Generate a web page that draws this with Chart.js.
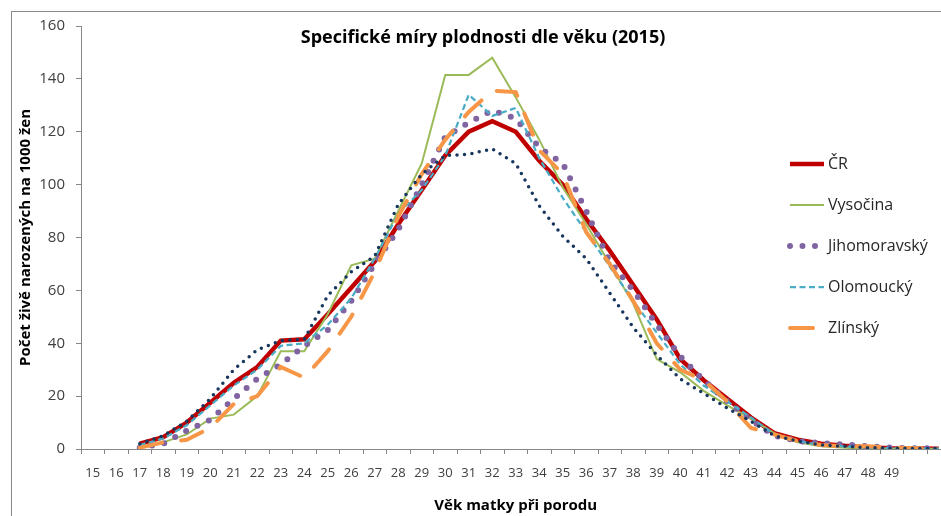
<!DOCTYPE html>
<html>
<head>
<meta charset="utf-8">
<script src="https://cdn.jsdelivr.net/npm/chart.js@4.4.0/dist/chart.umd.min.js"></script>
<style>
  html, body { margin: 0; padding: 0; overflow: hidden; background: #fff; width: 941px; height: 516px; }
  #frame { position: absolute; left: 11px; top: 11px; width: 1000px; height: 600px; border: 1px solid #8a8a8a; }
  #wrap { position: absolute; left: 0; top: 0; width: 990px; height: 516px; }
</style>
</head>
<body>
<div id="frame"></div>
<div id="wrap"><canvas id="chart"></canvas></div>
<script>
const chartTitle = 'Specifické míry plodnosti dle věku (2015)';
const xTitle = 'Věk matky při porodu';
const yTitle = 'Počet živě narozených na 1000 žen';

// věk 15..49, then two unlabeled slots
const ages = ['15','16','17','18','19','20','21','22','23','24','25','26','27','28','29','30','31','32',
  '33','34','35','36','37','38','39','40','41','42','43','44','45','46','47','48','49','',''];

const cr = [null, null, 2, 4.5, 10, 17.5, 25, 31, 41, 41.5, 51, 61, 71, 85, 98, 111, 120, 124, 120, 109,
  100, 87, 75, 62, 49, 34, 26, 19, 12, 6, 3.5, 2, 1.2, 0.6, 0.3, 0.2, 0.1];
const vysocina = [null, null, 1, 2.5, 5.5, 11.5, 13, 20, 37, 37, 51, 69.5, 72, 90, 108, 141.5, 141.5, 148, 133, 117,
  99, 85, 70, 55, 34, 29, 22, 16.5, 11.5, 6, 2.5, 1, 0.5, 0.3, 0.2, 0.1, 0.1];
const jihomoravsky = [null, null, 0.5, 2, 7, 11, 19, 26.5, 32, 39, 45, 56, 70, 83, 100, 118, 123.5, 128, 125, 114,
  108, 90, 71, 60, 47, 35, 26, 18, 11, 5, 3, 2.2, 1.7, 1, 0.5, 0.3, 0.2];
const olomoucky = [null, null, 1.5, 4, 9, 16.5, 24, 30, 39, 40, 47, 57, 72, 89, 98, 111, 134, 126, 129, 110,
  95, 82, 69, 56, 44, 32, 24, 18, 12, 5.5, 3, 1.5, 1, 0.5, 0.3, 0.2, 0.1];
const zlinsky = [null, null, 0.5, 2.5, 3.5, 8, 17, 20, 31, 27, 37, 50, 67, 88, 104, 117, 127.5, 135.5, 135, 113,
  104, 82, 70, 56, 40, 30, 26, 18, 8, 5.5, 3, 1.5, 1, 1, 0.5, 0.3, 0.2];
const ostatni = [null, null, 2, 5, 10.5, 19, 30, 37.5, 41, 41.5, 58, 67, 73, 92.5, 104, 111, 111.5, 113.5, 108, 92,
  80.5, 72, 59, 46, 35.5, 26.5, 21, 15.5, 10.5, 5, 3, 1.5, 1, 0.5, 0.3, 0.2, 0.2];

const txt = '#404040';
const axisGray = '#868686';
const font = '"Open Sans", "DejaVu Sans", sans-serif';

const overlay = {
    id: 'overlay',
    afterDraw(chart) {
        const ctx = chart.ctx;
        ctx.save();
        ctx.fillStyle = '#000';
        ctx.font = 'bold 18px ' + font;
        ctx.textAlign = 'center';
        ctx.textBaseline = 'middle';
        ctx.fillText(chartTitle, 483, 38);

        // legend inside the plot, last dataset has no entry
        chart.data.datasets.slice(0, 5).forEach((ds, k) => {
            const y = 164 + k * 41;
            ctx.beginPath();
            ctx.strokeStyle = ds.borderColor;
            ctx.lineWidth = ds.borderWidth;
            ctx.setLineDash(ds.borderDash || []);
            ctx.lineCap = ds.borderCapStyle || 'butt';
            ctx.moveTo(790, y);
            ctx.lineTo(824, y);
            ctx.stroke();
            ctx.setLineDash([]);
            ctx.fillStyle = '#262626';
            ctx.font = '16px ' + font;
            ctx.textAlign = 'left';
            ctx.fillText(ds.label, 828, y);
        });
        ctx.restore();
    }
};

new Chart(document.getElementById('chart'), {
    type: 'line',
    data: {
        labels: ages,
        datasets: [
            { label: 'ČR', data: cr, borderColor: '#C00000', borderWidth: 4.5, order: 6 },
            { label: 'Vysočina', data: vysocina, borderColor: '#9BBB59', borderWidth: 2, order: 5 },
            { label: 'Jihomoravský', data: jihomoravsky, borderColor: '#8064A2', borderWidth: 6,
              borderDash: [0, 12.5], borderCapStyle: 'round', order: 4 },
            { label: 'Olomoucký', data: olomoucky, borderColor: '#4BACC6', borderWidth: 2.25,
              borderDash: [6, 3.5], order: 3 },
            { label: 'Zlínský', data: zlinsky, borderColor: '#F79646', borderWidth: 4,
              borderDash: [23, 19], borderCapStyle: 'round', order: 2 },
            { label: '', data: ostatni, borderColor: '#17365D', borderWidth: 3.5,
              borderDash: [0, 7.5], borderCapStyle: 'round', order: 1 }
        ]
    },
    options: {
        responsive: true,
        maintainAspectRatio: false,
        animation: false,
        layout: { padding: { left: 0, right: 39.5, top: 26, bottom: 0 } },
        elements: { point: { radius: 0 }, line: { tension: 0, fill: false } },
        plugins: { legend: { display: false }, title: { display: false }, tooltip: { enabled: false } },
        scales: {
            x: {
                type: 'category',
                offset: true,
                afterFit: s => { s.height = 67; },
                grid: { offset: true, drawOnChartArea: false, drawTicks: true, tickLength: 5, color: axisGray },
                border: { color: axisGray },
                ticks: { autoSkip: false, maxRotation: 0, padding: 11, color: txt, font: { family: font, size: 13 } },
                title: { display: true, text: xTitle, color: '#000', padding: { top: 0, bottom: 1 },
                         font: { family: font, size: 15, weight: 'bold' } }
            },
            y: {
                min: 0,
                max: 160,
                afterFit: s => { s.width = 81; },
                grid: { drawOnChartArea: false, drawTicks: true, tickLength: 5, color: axisGray },
                border: { color: axisGray },
                ticks: { stepSize: 20, padding: 11, color: txt, font: { family: font, size: 15 } },
                title: { display: true, text: yTitle, color: '#000', padding: { top: 17, bottom: 0 },
                         font: { family: font, size: 15, weight: 'bold' } }
            }
        }
    },
    plugins: [overlay]
});
</script>
</body>
</html>
